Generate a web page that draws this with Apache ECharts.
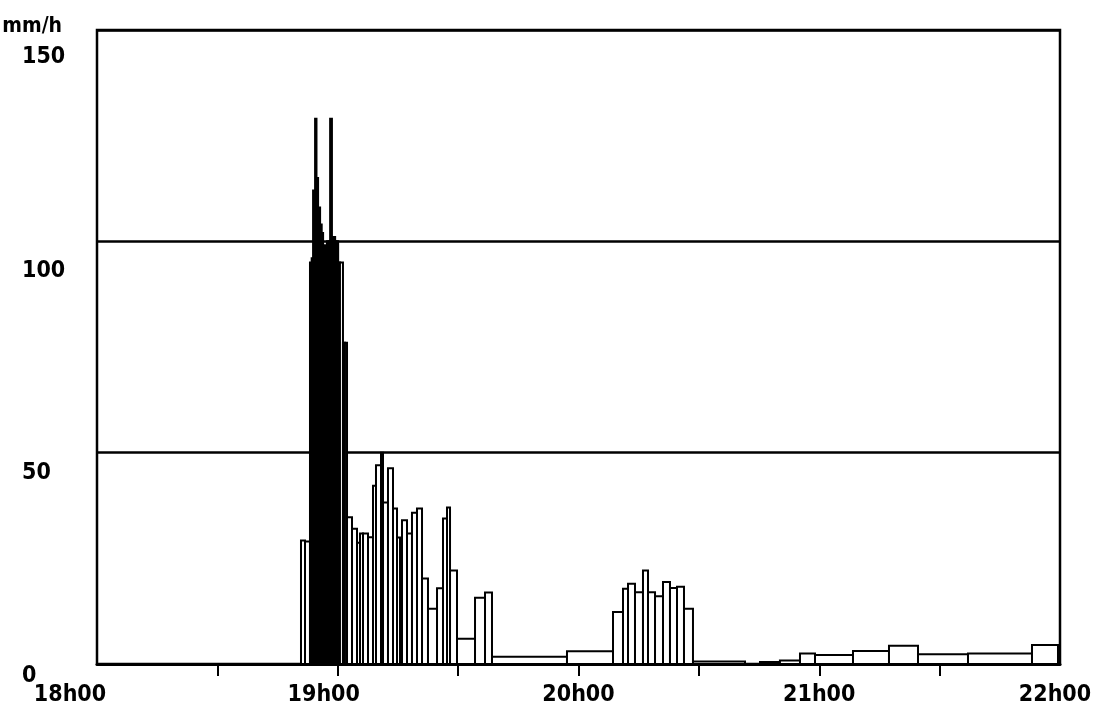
<!DOCTYPE html>
<html>
<head>
<meta charset="utf-8">
<script src="https://cdn.jsdelivr.net/npm/echarts@6/dist/echarts.min.js"></script>
<style>
  html, body { margin: 0; padding: 0; background: #fff; }
  #chart { width: 1095px; height: 721px; }
</style>
</head>
<body>
<div id="chart"></div>
<script>
// Rain-gauge record: bin boundaries in minutes after 18h00, and the
// intensity (mm/h) over each bin. A null intensity marks a missing record.
const binEdges = [
  50.84, 51.84, 53.08, 53.5, 53.85, 54.35, 54.7, 55.1, 55.6, 56.0, 56.35,
  56.8, 57.3, 57.7, 58.1, 58.55, 58.95, 59.35, 59.7, 60.1, 60.55, 61.3,
  61.8, 62.31, 63.55, 64.8, 65.55, 66.29, 67.54, 68.79, 69.53, 70.78,
  71.28, 72.52, 73.77, 74.77, 75.51, 76.01, 77.26, 78.5, 79.75, 81.0,
  82.49, 84.74, 86.23, 87.23, 87.98, 89.72, 94.21, 96.7, 98.44, 117.13,
  128.6, 131.09, 132.34, 134.08, 136.07, 137.32, 139.07, 141.06, 142.8,
  144.55, 146.29, 148.53, 161.5, 165.23, 170.2, 175.2, 178.94, 188.41,
  197.38, 204.61, 217.07, 233.02, 239.5
];
const intensity = [
  29.2, 29.0, 95, 96, 112, 129, 115, 108, 104, 102,
  99, 99, 100, 100, 129, 101, 101, 100, 100, 95,
  95, 76, 76, 34.7, 32, 28.7, 30.9, 30.9, 30, 42.2,
  47, 50, 38.2, 46.3, 36.8, 29.9, 28.5, 34, 30.9, 35.8,
  36.8, 20.2, 13.1, 17.9, 34.4, 37, 22.1, 6, 15.7, 16.9,
  1.7, 3.0, 12.3, 17.8, 19, 17, 22.1, 17, 16, 19.4,
  18, 18.3, 13.1, 0.6, null, 0.5, 0.8, 2.5, 2.1, 3.1,
  4.3, 2.3, 2.5, 4.5
];

// Axis labelling
const hourTicks = [0, 60, 120, 180, 240];
const halfHourTicks = [30, 60, 90, 120, 150, 180, 210];
const rateTicks = [0, 50, 100, 150];
const startHour = 18;

const bins = [];
for (let i = 0; i < intensity.length; i++) {
  if (intensity[i] === null) continue;
  bins.push([binEdges[i], binEdges[i + 1], intensity[i]]);
}

const labelFont = '"DejaVu Sans Condensed", "DejaVu Sans", sans-serif';

const chart = echarts.init(document.getElementById('chart'), null, { renderer: 'canvas' });

chart.setOption({
  animation: false,
  backgroundColor: '#ffffff',
  grid: {
    left: 97, right: 35, top: 30, bottom: 57,
    outerBoundsMode: 'none',
    containLabel: false,
    show: true, borderColor: '#000', borderWidth: 2.5, backgroundColor: 'transparent'
  },
  xAxis: {
    type: 'value',
    min: 0, max: 240, interval: 30,
    axisLine: { show: true, lineStyle: { color: '#000', width: 3 } },
    axisTick: {
      show: true, length: 12, customValues: halfHourTicks,
      lineStyle: { color: '#000', width: 2 }
    },
    splitLine: { show: false },
    axisLabel: {
      customValues: hourTicks,
      margin: 20,
      color: '#000',
      fontFamily: labelFont,
      fontWeight: 'bold',
      fontSize: 23,
      formatter: function (v) {
        const txt = (startHour + v / 60) + 'h00';
        return '{h' + v + '|' + txt + '}';
      },
      rich: {
        h0: { padding: [0, 54, 0, 0] },
        h60: { padding: [0, 28, 0, 0] },
        h120: {}, h180: {},
        h240: { padding: [0, 10, 0, 0] }
      }
    }
  },
  yAxis: {
    type: 'value',
    min: 0, max: 150, interval: 50,
    name: 'mm/h',
    nameLocation: 'end',
    nameGap: 3,
    nameTextStyle: {
      color: '#000', fontFamily: labelFont, fontWeight: 'bold', fontSize: 21,
      align: 'right', verticalAlign: 'middle', padding: [0, 35, 0, 0]
    },
    axisLine: { show: false },
    axisTick: { show: false },
    splitLine: { show: true, lineStyle: { color: '#000', width: 2.5 } },
    axisLabel: {
      customValues: rateTicks,
      align: 'left',
      margin: 75,
      color: '#000',
      fontFamily: labelFont,
      fontWeight: 'bold',
      fontSize: 23,
      formatter: function (v) { return '{r' + v + '|' + v + '}'; },
      rich: {
        r0: { padding: [24, 0, 0, 0] },
        r50: { padding: [40, 0, 0, 0] },
        r100: { padding: [60, 0, 0, 0] },
        r150: { padding: [54, 0, 0, 0] }
      }
    }
  },
  series: [{
    type: 'custom',
    data: bins,
    encode: { x: [0, 1], y: 2 },
    clip: true,
    renderItem: function (params, api) {
      const top = api.coord([api.value(0), api.value(2)]);
      const base = api.coord([api.value(1), 0]);
      return {
        type: 'rect',
        shape: { x: top[0], y: top[1], width: base[0] - top[0], height: base[1] - top[1] },
        style: { fill: '#ffffff', stroke: '#000000', lineWidth: 2 }
      };
    }
  }]
});
</script>
</body>
</html>
